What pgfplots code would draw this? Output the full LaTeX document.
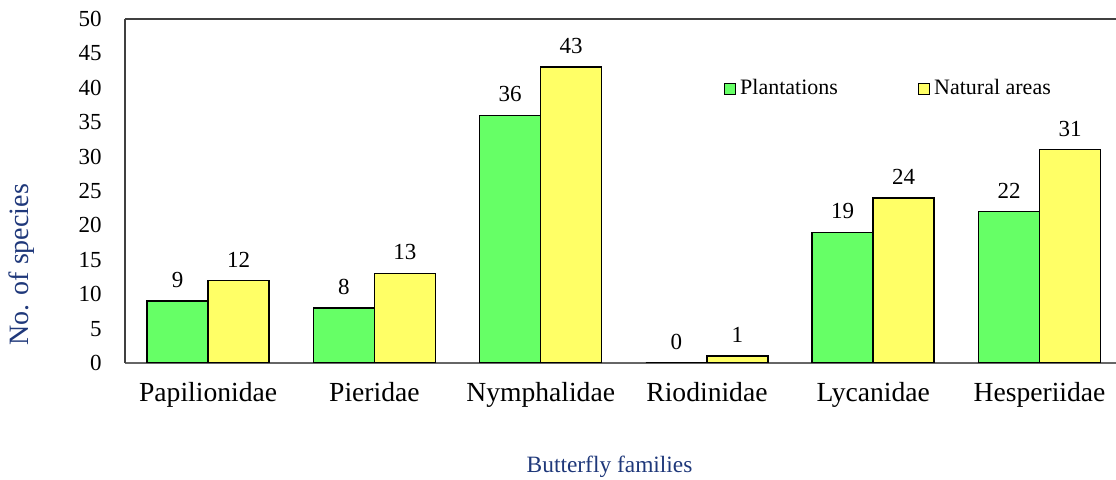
\documentclass[border=0pt]{standalone}
\usepackage{pgfplots}
\pgfplotsset{compat=1.18}
\usepackage{fontspec}
\setmainfont{Liberation Serif}
\definecolor{barg}{RGB}{102,255,102}
\definecolor{bary}{RGB}{255,255,102}
\definecolor{lblue}{RGB}{31,56,122}
\begin{document}
\begin{tikzpicture}
\useasboundingbox (-62.5pt,-58.5pt) rectangle (495.5pt,181.5pt);
\begin{axis}[
  at={(0,0)}, anchor=south west,
  scale only axis, width=495.5pt, height=172pt,
  ybar=0pt, bar width=30.5pt,
  xmin=-0.5, xmax=5.46, ymin=0, ymax=50,
  xtick=data,
  xticklabels={Papilionidae,Pieridae,Nymphalidae,Riodinidae,Lycanidae,Hesperiidae},
  ytick={0,5,...,50},
  axis x line=bottom, axis y line=left,
  x axis line style={-, draw=gray!80!black, line width=0.8pt},
  y axis line style={-, draw=black!75, line width=0.8pt},
  tick style={draw=none},
  /pgf/number format/assume math mode=true,
  yticklabel style={font=\fontsize{11.5}{13}\selectfont, xshift=-6pt},
  xticklabel style={font=\fontsize{13.8}{15}\selectfont, yshift=-4pt},
  nodes near coords,
  every node near coord/.append style={font=\fontsize{11.5}{13}\selectfont, yshift=3pt},
  ylabel={No. of species},
  ylabel style={at={(axis description cs:-0.104,0.285)}, anchor=center, font=\fontsize{14}{16}\selectfont, text=lblue},
  xlabel={Butterfly families},
  xlabel style={at={(rel axis cs:0.489,0)}, yshift=-52pt, anchor=center, font=\fontsize{11.7}{14}\selectfont, text=lblue},
  legend style={at={(rel axis cs:0.598,0.797)}, anchor=west, draw=none, fill=none,
    font=\fontsize{11}{13}\selectfont, legend columns=2,
    /tikz/every even column/.append style={column sep=38pt}},
  legend image code/.code={\draw[#1, draw=black, line width=0.6pt] (0pt,-2.75pt) rectangle (5.5pt,2.75pt);},
]
\addplot[fill=barg, draw=black, line width=0.75pt] coordinates {(0,9) (1,8) (2,36) (3,0) (4,19) (5,22)};
\addplot[fill=bary, draw=black, line width=0.75pt] coordinates {(0,12) (1,13) (2,43) (3,1) (4,24) (5,31)};
\legend{Plantations, Natural areas}
\draw[black!75, line width=0.8pt] (rel axis cs:0,1) -- (rel axis cs:1,1);
\end{axis}
\end{tikzpicture}
\end{document}
